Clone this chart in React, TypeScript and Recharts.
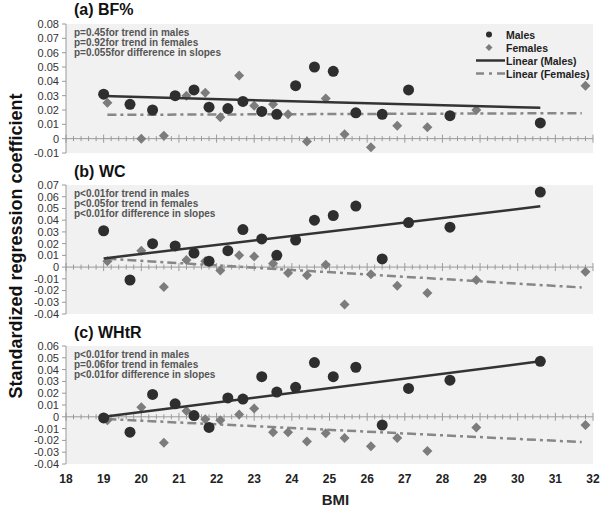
import React from "react";
import {
  ScatterChart,
  Scatter,
  XAxis,
  YAxis,
  CartesianGrid,
  ReferenceLine,
} from "recharts";

// BMI positions of the subgroup points (same in every panel)
const maleBmi = [19.0, 19.7, 20.3, 20.9, 21.4, 21.8, 22.3, 22.7, 23.2, 23.6, 24.1, 24.6, 25.1, 25.7, 26.4, 27.1, 28.2, 30.6];
const femaleBmi = [19.1, 20.0, 20.6, 21.2, 21.7, 22.1, 22.6, 23.0, 23.5, 23.9, 24.4, 24.9, 25.4, 26.1, 26.8, 27.6, 28.9, 31.8];

// (a) BF%
const bfMales = [0.031, 0.024, 0.020, 0.030, 0.034, 0.022, 0.021, 0.026, 0.019, 0.017, 0.037, 0.050, 0.047, 0.018, 0.017, 0.034, 0.016, 0.011];
const bfFemales = [0.025, 0.0, 0.002, 0.030, 0.032, 0.015, 0.044, 0.023, 0.024, 0.017, -0.002, 0.028, 0.003, -0.006, 0.009, 0.008, 0.020, 0.037];
const bfMaleTrend = [{ x: 19.0, y: 0.0297 }, { x: 30.6, y: 0.0215 }];
const bfFemaleTrend = [{ x: 19.1, y: 0.0166 }, { x: 31.7, y: 0.0178 }];

// (b) WC
const wcMales = [0.031, -0.011, 0.020, 0.018, 0.012, 0.005, 0.014, 0.032, 0.024, 0.010, 0.023, 0.040, 0.044, 0.052, 0.007, 0.038, 0.034, 0.064];
const wcFemales = [0.005, 0.014, -0.017, 0.006, 0.005, -0.003, 0.010, 0.009, 0.003, -0.005, -0.007, 0.002, -0.032, -0.006, -0.016, -0.022, -0.011, -0.004];
const wcMaleTrend = [{ x: 19.0, y: 0.0074 }, { x: 30.6, y: 0.0518 }];
const wcFemaleTrend = [{ x: 19.1, y: 0.0071 }, { x: 31.7, y: -0.0174 }];

// (c) WHtR
const whtrMales = [-0.001, -0.013, 0.019, 0.011, 0.001, -0.009, 0.016, 0.015, 0.034, 0.021, 0.025, 0.046, 0.034, 0.042, -0.007, 0.024, 0.031, 0.047];
const whtrFemales = [-0.003, 0.008, -0.022, 0.005, -0.002, -0.003, 0.002, 0.007, -0.013, -0.013, -0.021, -0.014, -0.018, -0.025, -0.018, -0.029, -0.009, -0.007];
const whtrMaleTrend = [{ x: 19.0, y: 0.0 }, { x: 30.6, y: 0.047 }];
const whtrFemaleTrend = [{ x: 19.1, y: -0.0019 }, { x: 31.7, y: -0.0214 }];

const xTicks = [18, 19, 20, 21, 22, 23, 24, 25, 26, 27, 28, 29, 30, 31, 32];
const bfTicks = [-0.01, 0, 0.01, 0.02, 0.03, 0.04, 0.05, 0.06, 0.07, 0.08];
const wcTicks = [-0.04, -0.03, -0.02, -0.01, 0, 0.01, 0.02, 0.03, 0.04, 0.05, 0.06, 0.07];
const whtrTicks = [-0.04, -0.03, -0.02, -0.01, 0, 0.01, 0.02, 0.03, 0.04, 0.05, 0.06];

const FONT = "'Liberation Sans', Arial, sans-serif";
const MALE = "#2e2e2e";
const FEMALE = "#7c7c7c";
const AXIS = "#9a9a9a";

// small tick marks along the zero line, every 0.2 BMI
const zeroTicks = Array.from({ length: 71 }, (_, i) => ({ x: 18 + i * 0.2, y: 0, major: i % 5 === 0 }));

const pairs = (xs: number[], ys: number[]) => xs.map((x, i) => ({ x, y: ys[i] }));

const Dot = (p: any) => <circle cx={p.cx} cy={p.cy} r={5.5} fill={MALE} />;
const Diamond = (p: any) => {
  const s = 5;
  return (
    <polygon
      points={`${p.cx},${p.cy - s} ${p.cx + s},${p.cy} ${p.cx},${p.cy + s} ${p.cx - s},${p.cy}`}
      fill={FEMALE}
    />
  );
};
const Nothing = () => <g />;
const ZeroTick = (p: any) => {
  const h = p.payload.major ? 4 : 2.5;
  return <line x1={p.cx} x2={p.cx} y1={p.cy - h} y2={p.cy + h} stroke={AXIS} strokeWidth={1} />;
};

const fmt = (v: number) => (v === 0 ? "0" : v.toFixed(2));

interface PanelProps {
  top: number;
  height: number;
  marginTop: number;
  marginBottom: number;
  yTicks: number[];
  males: number[];
  females: number[];
  maleTrend: { x: number; y: number }[];
  femaleTrend: { x: number; y: number }[];
  showX?: boolean;
}

function Panel({ top, height, marginTop, marginBottom, yTicks, males, females, maleTrend, femaleTrend, showX }: PanelProps) {
  return (
    <div style={{ position: "absolute", left: 0, top }}>
      <ScatterChart
        width={600}
        height={height}
        margin={{ top: marginTop, right: 7, bottom: marginBottom, left: 0 }}
      >
        <CartesianGrid horizontal={false} vertical={false} fill="#f1f1f1" />
        <XAxis
          type="number"
          dataKey="x"
          domain={[18, 32]}
          ticks={xTicks}
          interval={0}
          hide={!showX}
          height={showX ? 44 : 0}
          axisLine={false}
          tickLine={false}
          tickSize={0}
          tickMargin={10}
          tick={{ fontSize: 12, fontWeight: "bold", fill: "#222", fontFamily: FONT }}
          label={showX ? { value: "BMI", position: "insideBottom", offset: 3, dx: 6, fontSize: 15, fontWeight: "bold", fill: "#222", fontFamily: FONT } : undefined}
        />
        <YAxis
          type="number"
          dataKey="y"
          width={66}
          domain={[yTicks[0], yTicks[yTicks.length - 1]]}
          ticks={yTicks}
          interval={0}
          tickFormatter={fmt}
          axisLine={{ stroke: AXIS }}
          tickLine={{ stroke: AXIS }}
          tickSize={4}
          tickMargin={3}
          tick={{ fontSize: 11, fill: "#333", fontFamily: FONT }}
        />
        <ReferenceLine y={0} stroke={AXIS} strokeWidth={1} />
        <Scatter data={zeroTicks} shape={ZeroTick} isAnimationActive={false} />
        <Scatter
          data={femaleTrend}
          shape={Nothing}
          line={{ stroke: "#878787", strokeWidth: 2.5, strokeDasharray: "9 4 3 4" }}
          isAnimationActive={false}
        />
        <Scatter data={pairs(femaleBmi, females)} shape={Diamond} isAnimationActive={false} />
        <Scatter
          data={maleTrend}
          shape={Nothing}
          line={{ stroke: "#333", strokeWidth: 2.5 }}
          isAnimationActive={false}
        />
        <Scatter data={pairs(maleBmi, males)} shape={Dot} isAnimationActive={false} />
      </ScatterChart>
    </div>
  );
}

const titleStyle: React.CSSProperties = {
  position: "absolute",
  left: 74,
  fontSize: 16,
  fontWeight: "bold",
  color: "#111",
  fontFamily: FONT,
  lineHeight: "18px",
};

const noteStyle: React.CSSProperties = {
  position: "absolute",
  left: 74,
  fontSize: 10,
  fontWeight: "bold",
  color: "#555",
  fontFamily: FONT,
  lineHeight: "10px",
  whiteSpace: "pre",
};

function Notes({ top, lines }: { top: number; lines: string[] }) {
  return (
    <div style={{ ...noteStyle, top }}>
      {lines.map((l) => (
        <div key={l}>{l}</div>
      ))}
    </div>
  );
}

function LegendBox() {
  const row: React.CSSProperties = { display: "flex", alignItems: "center", height: 13 };
  const label: React.CSSProperties = { fontSize: 10.5, fontWeight: "bold", color: "#222", fontFamily: FONT };
  return (
    <div style={{ position: "absolute", left: 476, top: 28 }}>
      <div style={row}>
        <svg width={30} height={13}>
          <circle cx={13} cy={6.5} r={3} fill={MALE} />
        </svg>
        <span style={label}>Males</span>
      </div>
      <div style={row}>
        <svg width={30} height={13}>
          <polygon points="13,3 16.5,6.5 13,10 9.5,6.5" fill={FEMALE} />
        </svg>
        <span style={label}>Females</span>
      </div>
      <div style={row}>
        <svg width={30} height={13}>
          <line x1={0} x2={29} y1={6.5} y2={6.5} stroke="#333" strokeWidth={2.5} />
        </svg>
        <span style={label}>Linear (Males)</span>
      </div>
      <div style={row}>
        <svg width={30} height={13}>
          <line x1={0} x2={29} y1={6.5} y2={6.5} stroke="#878787" strokeWidth={2.5} strokeDasharray="8 5 3 5" />
        </svg>
        <span style={label}>Linear (Females)</span>
      </div>
    </div>
  );
}

export default function App() {
  return (
    <div style={{ position: "absolute", left: 0, top: 0, width: 600, height: 508, background: "#fff", overflow: "hidden" }}>
      <Panel top={0} height={160} marginTop={24} marginBottom={7} yTicks={bfTicks} males={bfMales} females={bfFemales} maleTrend={bfMaleTrend} femaleTrend={bfFemaleTrend} />
      <Panel top={160} height={160} marginTop={25} marginBottom={6} yTicks={wcTicks} males={wcMales} females={wcFemales} maleTrend={wcMaleTrend} femaleTrend={wcFemaleTrend} />
      <Panel top={320} height={188} marginTop={26} marginBottom={0} yTicks={whtrTicks} males={whtrMales} females={whtrFemales} maleTrend={whtrMaleTrend} femaleTrend={whtrFemaleTrend} showX />

      <div style={{ ...titleStyle, top: 1 }}>(a) BF%</div>
      <div style={{ ...titleStyle, top: 163 }}>(b) WC</div>
      <div style={{ ...titleStyle, top: 324 }}>(c) WHtR</div>

      <Notes top={28} lines={["p=0.45for trend in males", "p=0.92for trend in females", "p=0.055for difference in slopes"]} />
      <Notes top={189} lines={["p<0.01for trend in males", "p<0.05for trend in females", "p<0.01for difference in slopes"]} />
      <Notes top={350} lines={["p<0.01for trend in males", "p=0.06for trend in females", "p<0.01for difference in slopes"]} />

      <LegendBox />

      <div
        style={{
          position: "absolute",
          left: 16,
          top: 246,
          transform: "translate(-50%, -50%) rotate(-90deg)",
          whiteSpace: "nowrap",
          fontSize: 18,
          fontWeight: "bold",
          color: "#111",
          fontFamily: FONT,
        }}
      >
        Standardized regression coefficient
      </div>
    </div>
  );
}
